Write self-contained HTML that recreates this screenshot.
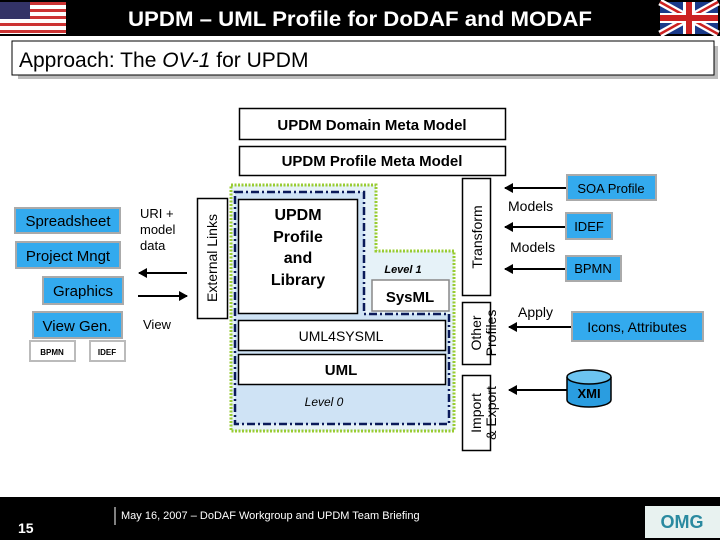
<!DOCTYPE html>
<html><head><meta charset="utf-8"><style>
body{margin:0;width:720px;height:540px;overflow:hidden;background:#fff}
svg{display:block}
text{font-family:"Liberation Sans",sans-serif}
</style></head><body>
<svg width="720" height="540" viewBox="0 0 720 540">
<defs>
<marker id="ar" markerUnits="userSpaceOnUse" markerWidth="9" markerHeight="10" refX="8" refY="5" orient="auto"><path d="M0,0 L9,5 L0,10 Z" fill="#000"/></marker></defs>
<!-- header -->
<rect x="0" y="0" width="720" height="36" fill="#000"/>
<g>
<rect x="0" y="2" width="66" height="32" fill="#fff"/>
<g fill="#c33"><rect x="0" y="2" width="66" height="3"/><rect x="0" y="9" width="66" height="3"/><rect x="0" y="16" width="66" height="3"/><rect x="0" y="23" width="66" height="3"/><rect x="0" y="30" width="66" height="3"/></g>
<rect x="0" y="2" width="30" height="17" fill="#336"/>
</g>
<g>
<rect x="660" y="2" width="58" height="32" fill="#1a3a8a"/>
<path d="M660,2 L718,34 M718,2 L660,34" stroke="#fff" stroke-width="7"/>
<path d="M660,2 L718,34 M718,2 L660,34" stroke="#c22" stroke-width="2.5"/>
<rect x="683" y="2" width="12" height="32" fill="#fff"/><rect x="660" y="13" width="58" height="10" fill="#fff"/>
<rect x="686" y="2" width="6" height="32" fill="#c22"/><rect x="660" y="15" width="58" height="6" fill="#c22"/>
</g>
<text x="360" y="26" font-size="21" font-weight="bold" fill="#fff" text-anchor="middle" textLength="464" lengthAdjust="spacingAndGlyphs">UPDM – UML Profile for DoDAF and MODAF</text>
<rect x="18" y="46" width="700" height="33" fill="#bbb"/>
<rect x="12" y="41" width="702" height="34" fill="#fff" stroke="#000"/>
<text x="19" y="67" font-size="21">Approach: The <tspan font-style="italic">OV-1</tspan> for UPDM</text>
<!-- meta model boxes -->
<rect x="239.5" y="108.5" width="266" height="31" fill="#fff" stroke="#000" stroke-width="1.5"/>
<text x="372" y="130" font-size="15" font-weight="bold" text-anchor="middle">UPDM Domain Meta Model</text>
<rect x="239.5" y="146.5" width="266" height="29" fill="#fff" stroke="#000" stroke-width="1.5"/>
<text x="372" y="166" font-size="15" font-weight="bold" text-anchor="middle">UPDM Profile Meta Model</text>
<!-- stack -->
<path d="M231,185 H376 V251 H454 V431 H231 Z" fill="#e6f2f8" stroke="#9c3" stroke-width="3" stroke-dasharray="2,1.5"/>
<path d="M235,192 H364 V314 H449 V424 H235 Z" fill="#cfe3f5"/>
<path d="M235,192 H364 V314 H449 V424 H235 Z" fill="none" stroke="#0a1a5a" stroke-width="2.5" stroke-dasharray="8,3,2,3"/>
<rect x="238.5" y="199.5" width="119" height="114" fill="#fff" stroke="#000" stroke-width="1.5"/>
<text font-size="16" font-weight="bold" text-anchor="middle"><tspan x="298" y="220">UPDM</tspan><tspan x="298" y="242">Profile</tspan><tspan x="298" y="263">and</tspan><tspan x="298" y="285">Library</tspan></text>
<text x="403" y="273" font-size="11" font-weight="bold" font-style="italic" text-anchor="middle">Level 1</text>
<rect x="372" y="280" width="77" height="31" fill="#fff" stroke="#888" stroke-width="1.5"/>
<text x="410" y="302" font-size="15" font-weight="bold" text-anchor="middle">SysML</text>
<rect x="238.5" y="320.5" width="207" height="30" fill="#fff" stroke="#000" stroke-width="1.5"/>
<text x="341" y="341" font-size="14" text-anchor="middle">UML4SYSML</text>
<rect x="238.5" y="354.5" width="207" height="30" fill="#fff" stroke="#000" stroke-width="1.5"/>
<text x="341" y="375" font-size="15" font-weight="bold" text-anchor="middle">UML</text>
<text x="324" y="406" font-size="12" font-style="italic" text-anchor="middle">Level 0</text>
<!-- vertical boxes -->
<rect x="197.5" y="198.5" width="30" height="120" fill="#fff" stroke="#000" stroke-width="1.5"/>
<text transform="translate(217,258) rotate(-90)" font-size="14" text-anchor="middle">External Links</text>
<rect x="462.5" y="178.5" width="28" height="117" fill="#fff" stroke="#000" stroke-width="1.5"/>
<text transform="translate(482,237) rotate(-90)" font-size="14" text-anchor="middle">Transform</text>
<rect x="462.5" y="302.5" width="28" height="62" fill="#fff" stroke="#000" stroke-width="1.5"/>
<text transform="translate(481,333) rotate(-90)" font-size="14" text-anchor="middle"><tspan x="0" y="0">Other</tspan><tspan x="0" y="15">Profiles</tspan></text>
<rect x="462.5" y="375.5" width="28" height="75" fill="#fff" stroke="#000" stroke-width="1.5"/>
<text transform="translate(481,413) rotate(-90)" font-size="14" text-anchor="middle"><tspan x="0" y="0">Import</tspan><tspan x="0" y="15">&amp; Export</tspan></text>
<!-- left blue -->
<g stroke="#aaa" stroke-width="2" fill="#33aaee">
<rect x="15" y="208" width="105" height="25"/><rect x="16" y="242" width="104" height="26"/>
<rect x="43" y="277" width="80" height="27"/><rect x="33" y="312" width="89" height="26"/>
</g>
<g font-size="15" text-anchor="middle"><text x="68" y="226">Spreadsheet</text><text x="68" y="261">Project Mngt</text><text x="83" y="296">Graphics</text><text x="77" y="331">View Gen.</text></g>
<rect x="30" y="341" width="45" height="20" fill="#fff" stroke="#bbb" stroke-width="2"/>
<rect x="90" y="341" width="35" height="20" fill="#fff" stroke="#bbb" stroke-width="2"/>
<text x="52" y="355" font-size="8" font-weight="bold" text-anchor="middle">BPMN</text>
<text x="107" y="355" font-size="8" font-weight="bold" text-anchor="middle">IDEF</text>
<text font-size="13"><tspan x="140" y="218">URI +</tspan><tspan x="140" y="234">model</tspan><tspan x="140" y="250">data</tspan><tspan x="143" y="329">View</tspan></text>
<g stroke="#000" stroke-width="2" marker-end="url(#ar)">
<line x1="187" y1="273" x2="139" y2="273"/>
<line x1="138" y1="296" x2="187" y2="296"/>
<line x1="566" y1="188" x2="505" y2="188"/>
<line x1="565" y1="227" x2="505" y2="227"/>
<line x1="565" y1="269" x2="505" y2="269"/>
<line x1="571" y1="327" x2="509" y2="327"/>
<line x1="567" y1="390" x2="509" y2="390"/>
</g>
<!-- right -->
<g stroke="#aaa" stroke-width="2" fill="#33aaee">
<rect x="567" y="175" width="89" height="25"/><rect x="566" y="213" width="46" height="26"/>
<rect x="566" y="256" width="55" height="25"/><rect x="572" y="312" width="131" height="29"/>
</g>
<g font-size="13" text-anchor="middle"><text x="611" y="193">SOA Profile</text><text x="589" y="231">IDEF</text><text x="593" y="273">BPMN</text><text x="637" y="332" font-size="14">Icons, Attributes</text></g>
<g font-size="14"><text x="508" y="211">Models</text><text x="510" y="252">Models</text><text x="518" y="317">Apply</text></g>
<path d="M567,377 V400 A22,7 0 0 0 611,400 V377" fill="#2a9de0" stroke="#000" stroke-width="1.5"/>
<ellipse cx="589" cy="377" rx="22" ry="7" fill="#6cc4f0" stroke="#000" stroke-width="1.5"/>
<text x="589" y="398" font-size="13" font-weight="bold" text-anchor="middle">XMI</text>
<!-- footer -->
<rect x="0" y="497" width="720" height="43" fill="#000"/>
<text x="18" y="533" font-size="14" font-weight="bold" fill="#fff">15</text>
<line x1="115" y1="507" x2="115" y2="525" stroke="#fff"/>
<text x="121" y="519" font-size="11" fill="#fff">May 16, 2007 – DoDAF Workgroup and UPDM Team Briefing</text>
<rect x="645" y="506" width="75" height="32" fill="#e8f2f0"/>
<text x="682" y="528" font-size="18" font-weight="bold" fill="#2a8aa0" text-anchor="middle">OMG</text>
</svg>
</body></html>
